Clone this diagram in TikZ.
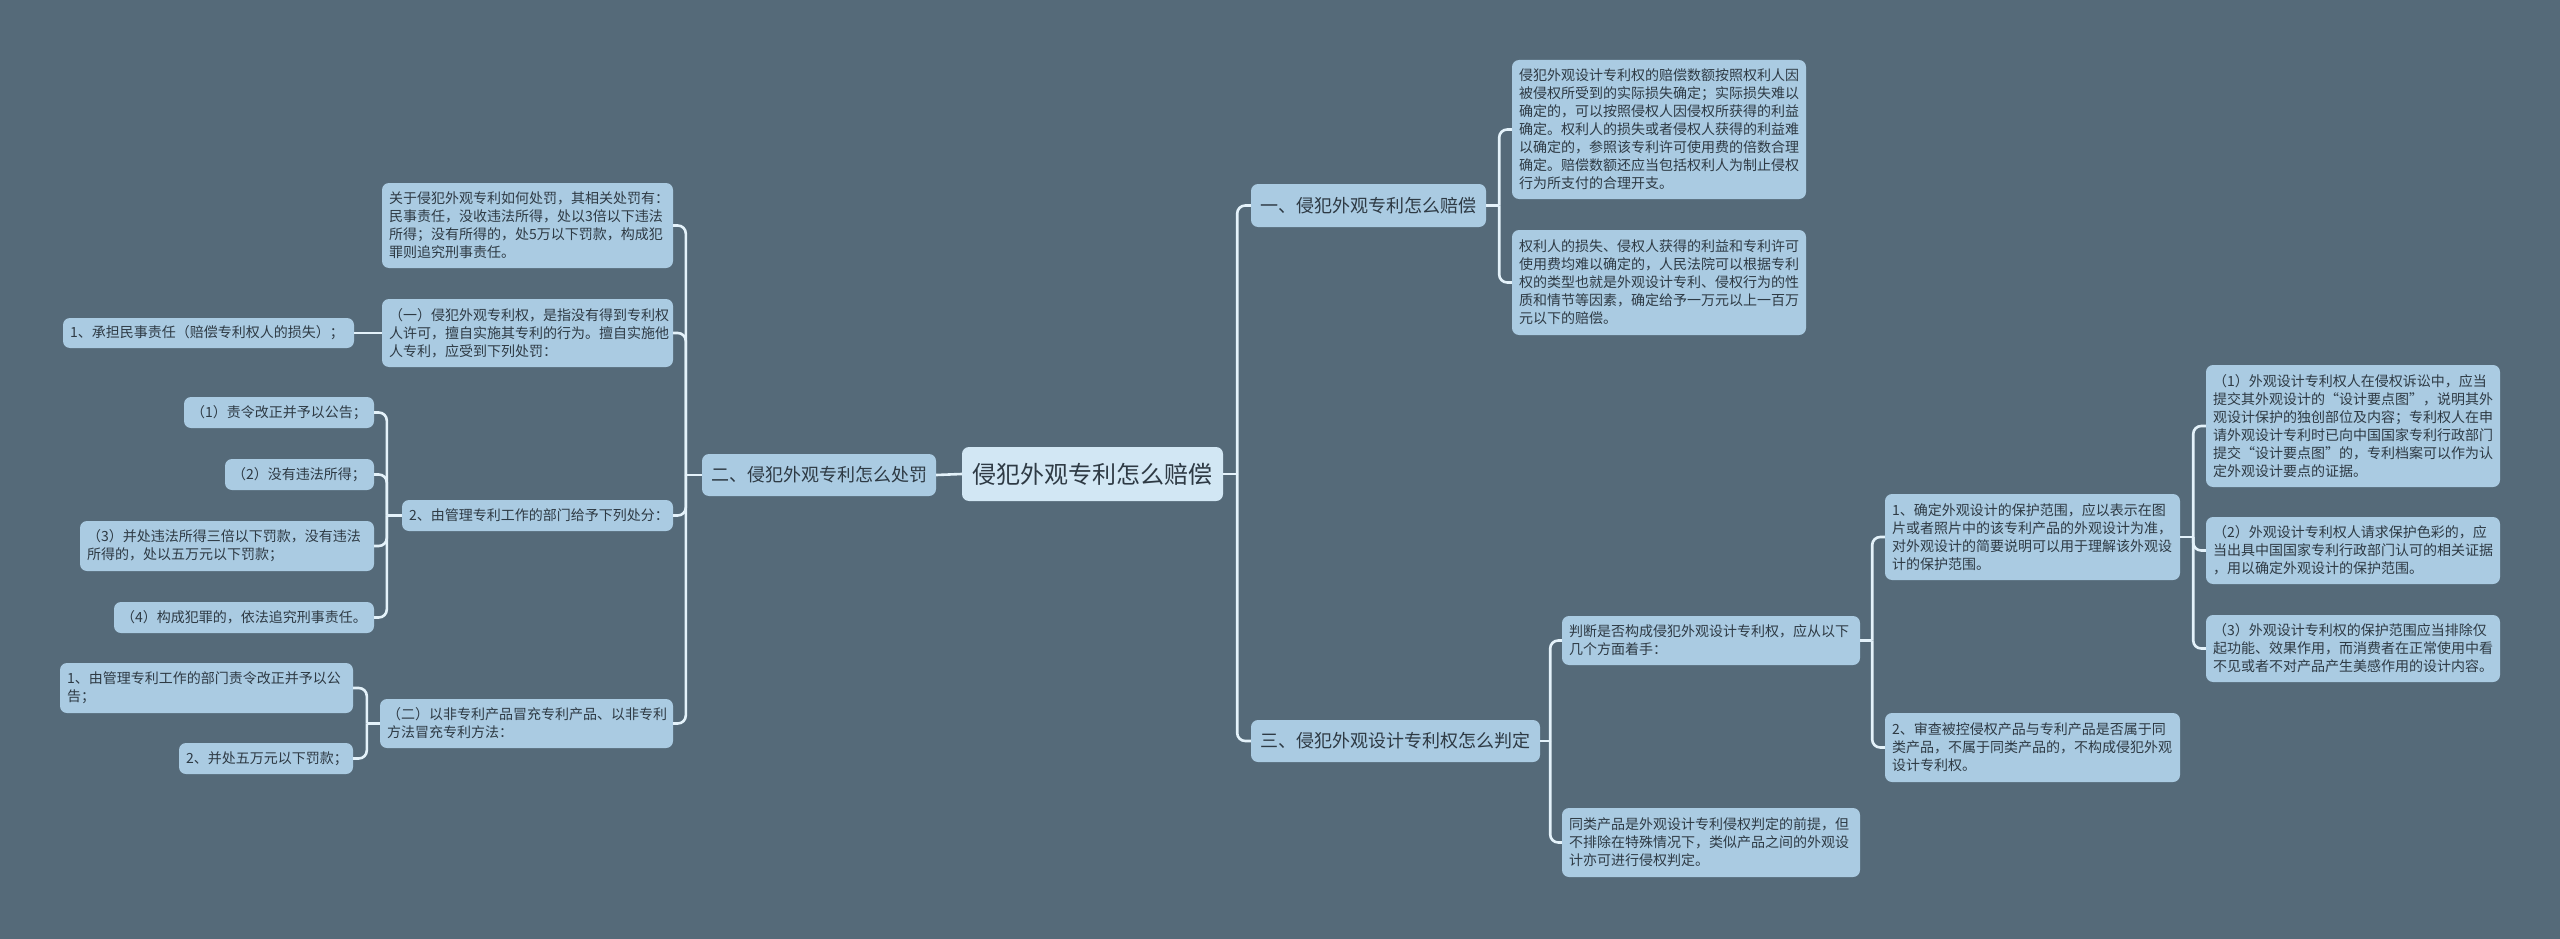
\documentclass[tikz,border=0pt]{standalone}
\usepackage{fontspec}
\newfontfamily\cjk{Noto Sans CJK SC}
\definecolor{bgc}{HTML}{556A79}
\definecolor{nodec}{HTML}{AACBE2}
\definecolor{centc}{HTML}{D2E7F4}
\definecolor{linec}{HTML}{E4F2FA}
\definecolor{txtc}{HTML}{2E3A44}
\tikzset{
  box/.style={fill=nodec, rounded corners=7pt, inner xsep=7pt, inner ysep=2pt, align=left, text=txtc,
    font=\cjk\fontsize{14pt}{18pt}\selectfont},
  lvone/.style={align=center, font=\cjk\fontsize{18pt}{22pt}\selectfont},
  cent/.style={fill=centc, align=center, font=\cjk\fontsize{24pt}{28pt}\selectfont},
  conn/.style={draw=linec, line width=2.6pt, rounded corners=8pt},
}
\newcommand\bx[7][]{%
  \pgfmathsetmacro\mybw{#5-#3}\pgfmathsetmacro\mybh{#6-#4}\pgfmathsetmacro\mytw{#5-#3-14}%
  \node[box,minimum width=\mybw pt,minimum height=\mybh pt,text width=\mytw pt,#1] (#2) at ({(#3+#5)/2},{(#4+#6)/2}) {#7};}
\begin{document}
\begin{tikzpicture}[x=1pt,y=-1pt]
\fill[bgc] (0,0) rectangle (2560,939);
\useasboundingbox (0,0) rectangle (2560,939);
% center
\bx[cent]{C}{962}{447}{1223}{501}{侵犯外观专利怎么赔偿}
% left
\bx[lvone]{n2}{702}{454}{936}{496}{二、侵犯外观专利怎么处罚}
\bx{L1}{382}{183}{673}{268}{关于侵犯外观专利如何处罚，其相关处罚有：\\民事责任，没收违法所得，处以3倍以下违法\\所得；没有所得的，处5万以下罚款，构成犯\\罪则追究刑事责任。}
\bx{L2}{382}{299}{673}{367}{（一）侵犯外观专利权，是指没有得到专利权\\人许可，擅自实施其专利的行为。擅自实施他\\人专利，应受到下列处罚：}
\bx{L2a}{63}{318}{354}{348}{1、承担民事责任（赔偿专利权人的损失）；}
\bx{L3}{402}{500}{673}{531}{2、由管理专利工作的部门给予下列处分：}
\bx{L3a}{184}{397}{374}{428}{（1）责令改正并予以公告；}
\bx{L3b}{225}{459}{374}{490}{（2）没有违法所得；}
\bx{L3c}{80}{521}{374}{571}{（3）并处违法所得三倍以下罚款，没有违法\\所得的，处以五万元以下罚款；}
\bx{L3d}{114}{602}{374}{633}{（4）构成犯罪的，依法追究刑事责任。}
\bx{L4}{380}{699}{673}{748}{（二）以非专利产品冒充专利产品、以非专利\\方法冒充专利方法：}
\bx{L4a}{60}{663}{353}{713}{1、由管理专利工作的部门责令改正并予以公\\告；}
\bx{L4b}{179}{743}{353}{774}{2、并处五万元以下罚款；}
% right
\bx[lvone]{n1}{1251}{184}{1486}{227}{一、侵犯外观专利怎么赔偿}
\bx[lvone]{n3}{1251}{720}{1540}{762}{三、侵犯外观设计专利权怎么判定}
\bx{A1}{1512}{60}{1806}{199}{侵犯外观设计专利权的赔偿数额按照权利人因\\被侵权所受到的实际损失确定；实际损失难以\\确定的，可以按照侵权人因侵权所获得的利益\\确定。权利人的损失或者侵权人获得的利益难\\以确定的，参照该专利许可使用费的倍数合理\\确定。赔偿数额还应当包括权利人为制止侵权\\行为所支付的合理开支。}
\bx{A2}{1512}{230}{1806}{335}{权利人的损失、侵权人获得的利益和专利许可\\使用费均难以确定的，人民法院可以根据专利\\权的类型也就是外观设计专利、侵权行为的性\\质和情节等因素，确定给予一万元以上一百万\\元以下的赔偿。}
\bx{B1}{1562}{616}{1860}{665}{判断是否构成侵犯外观设计专利权，应从以下\\几个方面着手：}
\bx{B2}{1562}{808}{1860}{877}{同类产品是外观设计专利侵权判定的前提，但\\不排除在特殊情况下，类似产品之间的外观设\\计亦可进行侵权判定。}
\bx{C1}{1885}{494}{2180}{580}{1、确定外观设计的保护范围，应以表示在图\\片或者照片中的该专利产品的外观设计为准，\\对外观设计的简要说明可以用于理解该外观设\\计的保护范围。}
\bx{C2}{1885}{713}{2180}{782}{2、审查被控侵权产品与专利产品是否属于同\\类产品，不属于同类产品的，不构成侵犯外观\\设计专利权。}
\bx{D1}{2206}{365}{2500}{487}{（1）外观设计专利权人在侵权诉讼中，应当\\提交其外观设计的“设计要点图”，说明其外\\观设计保护的独创部位及内容；专利权人在申\\请外观设计专利时已向中国国家专利行政部门\\提交“设计要点图”的，专利档案可以作为认\\定外观设计要点的证据。}
\bx{D2}{2206}{517}{2500}{584}{（2）外观设计专利权人请求保护色彩的，应\\当出具中国国家专利行政部门认可的相关证据\\，用以确定外观设计的保护范围。}
\bx{D3}{2206}{615}{2500}{682}{（3）外观设计专利权的保护范围应当排除仅\\起功能、效果作用，而消费者在正常使用中看\\不见或者不对产品产生美感作用的设计内容。}
% junctions
\path (n2.west) ++(-16,0) coordinate (j2);
\path (L3.west) ++(-15,0) coordinate (j3);
\path (L4.west) ++(-13,0) coordinate (j4);
\path (C.east) ++(14,0) coordinate (jc);
\path (n1.east) ++(13,0) coordinate (j1);
\path (n3.east) ++(10,0) coordinate (jt);
\path (B1.east) ++(12,0) coordinate (jb);
\path (C1.east) ++(13,0) coordinate (jd);
% connectors
\draw[conn] (C.west) -- (n2.east);
\draw[conn] (n2.west) -- (j2);
\foreach \c in {L1,L2,L3,L4} \draw[conn] (j2) |- (\c.east);
\draw[conn] (L2.west) -- (L2a.east);
\draw[conn] (L3.west) -- (j3);
\foreach \c in {L3a,L3b,L3c,L3d} \draw[conn] (j3) |- (\c.east);
\draw[conn] (L4.west) -- (j4);
\foreach \c in {L4a,L4b} \draw[conn] (j4) |- (\c.east);
\draw[conn] (C.east) -- (jc);
\foreach \c in {n1,n3} \draw[conn] (jc) |- (\c.west);
\draw[conn] (n1.east) -- (j1);
\foreach \c in {A1,A2} \draw[conn] (j1) |- (\c.west);
\draw[conn] (n3.east) -- (jt);
\foreach \c in {B1,B2} \draw[conn] (jt) |- (\c.west);
\draw[conn] (B1.east) -- (jb);
\foreach \c in {C1,C2} \draw[conn] (jb) |- (\c.west);
\draw[conn] (C1.east) -- (jd);
\foreach \c in {D1,D2,D3} \draw[conn] (jd) |- (\c.west);
\end{tikzpicture}
\end{document}
